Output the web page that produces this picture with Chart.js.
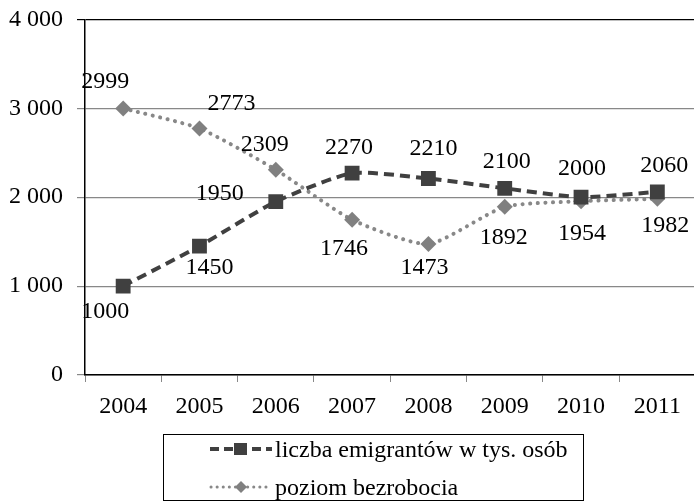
<!DOCTYPE html>
<html><head><meta charset="utf-8">
<script src="https://cdn.jsdelivr.net/npm/chart.js@4.4.0/dist/chart.umd.min.js"></script>
<style>
html,body{margin:0;padding:0;background:#fff;}
#wrap{position:relative;width:694px;height:502px;overflow:hidden;}
#c{position:absolute;left:0;top:-9px;}
#legend{position:absolute;left:163px;top:434px;width:421px;height:67px;border:1px solid #000;box-sizing:border-box;font-family:"Liberation Serif","Times New Roman",serif;font-size:24px;color:#000;background:#fff;}
.row{position:absolute;left:45px;height:30px;display:flex;align-items:center;white-space:nowrap;}
.row svg{margin-right:2px;}
</style></head>
<body><div id="wrap"><canvas id="c" width="706" height="511"></canvas>
<div id="legend">
<div class="row" style="top:-1px"><svg width="64" height="20"><line x1="1" y1="10" x2="63" y2="10" stroke="#404040" stroke-width="4" stroke-dasharray="9,5"/><rect x="25" y="4" width="13" height="12" fill="#404040"/></svg><span>liczba emigrantów w tys. osób</span></div>
<div class="row" style="top:37px"><svg width="64" height="20"><line x1="2" y1="10" x2="63" y2="10" stroke="#888" stroke-width="3" stroke-linecap="round" stroke-dasharray="0.1,6"/><polygon points="32,4 38,10 32,16 26,10" fill="#808080"/></svg><span>poziom bezrobocia</span></div>
</div></div>
<script>
const categories = ['2004','2005','2006','2007','2008','2009','2010','2011'];
const emigranci = [1000,1450,1950,2270,2210,2100,2000,2060];
const bezrobocie = [2999,2773,2309,1746,1473,1892,1954,1982];
const yTicks = [0,1000,2000,3000,4000];
// label offsets (px) relative to each point
const emigLabelOff = [[-18,26],[10,22],[-56,-8],[-3,-25],[5,-30],[2,-27],[1,-28],[7,-26]];
const bezrLabelOff = [[-18,-27],[32,-25],[-11,-25],[-8,29],[-4,24],[-1,31],[1,32],[8,27]];

const fmt = v => String(v).replace(/\B(?=(\d{3})+(?!\d))/g,' ');
const FONT = '"Liberation Serif", "Times New Roman", serif';

const labelPlugin = {
  id:'dlabels',
  afterDatasetsDraw(chart){
    const ctx = chart.ctx;
    ctx.save();
    ctx.font = '24px ' + FONT;
    ctx.fillStyle = '#000';
    ctx.textAlign = 'center';
    ctx.textBaseline = 'middle';
    const offs = [emigLabelOff, bezrLabelOff];
    chart.data.datasets.forEach((ds,i)=>{
      const meta = chart.getDatasetMeta(i);
      meta.data.forEach((pt,j)=>{
        const o = offs[i][j];
        ctx.fillText(String(ds.data[j]), pt.x + o[0], pt.y + o[1]);
      });
    });
    ctx.restore();
  }
};

new Chart(document.getElementById('c'), {
  type:'line',
  data:{
    labels: categories,
    datasets:[
      {label:'liczba emigrantów w tys. osób', data: emigranci, borderColor:'#404040', backgroundColor:'#404040',
       borderWidth:4, borderDash:[10,6], tension:0.2, pointStyle:'rect', pointRadius:10.5, pointHoverRadius:10.5,
       pointBackgroundColor:'#404040', pointBorderWidth:0, fill:false},
      {label:'poziom bezrobocia', data: bezrobocie, borderColor:'#888888', backgroundColor:'#808080',
       borderWidth:4, borderDash:[0.1,7.5], borderCapStyle:'round', tension:0.2, pointStyle:'rectRot', pointRadius:8, pointHoverRadius:8,
       pointBackgroundColor:'#808080', pointBorderWidth:0, fill:false}
    ]
  },
  options:{
    responsive:false, animation:false, events:[],
    layout:{padding:{top:6,right:0,left:0,bottom:0}},
    plugins:{legend:{display:false}, tooltip:{enabled:false}},
    scales:{
      x:{
        offset:true,
        grid:{offset:true, drawOnChartArea:false, drawTicks:true, tickLength:7, color:'#888'},
        border:{display:true, color:'#000', width:1.5},
        ticks:{font:{family:FONT, size:24}, color:'#000', padding:10, maxRotation:0},
        afterFit(s){ s.height = 127; }
      },
      y:{
        min:0, max:4000,
        afterBuildTicks(s){ s.ticks = yTicks.map(v=>({value:v})); },
        grid:{color: c => c.tick && c.tick.value===4000 ? '#000' : '#888', lineWidth:1.2, tickLength:8, drawTicks:true},
        border:{display:true, color:'#000', width:1.5},
        ticks:{font:{family:FONT, size:24}, color:'#000', padding:14, callback: v=>fmt(v)},
        afterFit(s){ s.width = 85; }
      }
    }
  },
  plugins:[labelPlugin]
});
</script></body></html>
